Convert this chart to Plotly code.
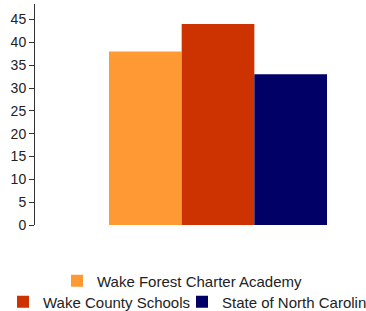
import plotly.graph_objects as go

categories = ["Wake Forest Charter Academy", "Wake County Schools", "State of North Carolina"]
values = [38, 44, 33]
colors = ["#FF9933", "#CC3300", "#000066"]
legend_ids = ["legend", "legend2", "legend3"]

fig = go.Figure()
for name, v, c, lg in zip(categories, values, colors, legend_ids):
    fig.add_trace(go.Bar(x=[0], y=[v], name=name, marker=dict(color=c, line=dict(width=0)),
                         legend=lg, hoverinfo="name+y"))

font = dict(family="Liberation Sans, Arial, sans-serif", size=14, color="#222222")
leg_font = dict(family="Liberation Sans, Arial, sans-serif", size=15, color="#222222")
common_leg = dict(orientation="h", xref="container", yref="container", xanchor="left",
                  yanchor="middle", font=leg_font, bgcolor="rgba(0,0,0,0)", itemwidth=30)

fig.update_layout(
    width=366, height=311,
    margin=dict(l=35, r=0, t=4, b=86),
    paper_bgcolor="white", plot_bgcolor="white",
    barmode="group", bargap=0.3414, bargroupgap=0,
    font=font,
    xaxis=dict(type="linear", range=[-0.5529, 0.4471], visible=False, showgrid=False, zeroline=False),
    yaxis=dict(range=[0, 48.4], dtick=5, tick0=0, ticks="outside", ticklen=5, tickcolor="#333333",
               showline=True, linecolor="#333333", linewidth=1, showgrid=False, zeroline=False,
               tickfont=font, automargin=False),
    legend=dict(x=57 / 366, y=1 - 281 / 311, **common_leg),
    legend2=dict(x=3 / 366, y=1 - 302 / 311, **common_leg),
    legend3=dict(x=182 / 366, y=1 - 302 / 311, **common_leg),
    showlegend=True,
)

fig.write_html("out.html", config={"displayModeBar": False},
               post_script="document.body.style.margin='0';")
